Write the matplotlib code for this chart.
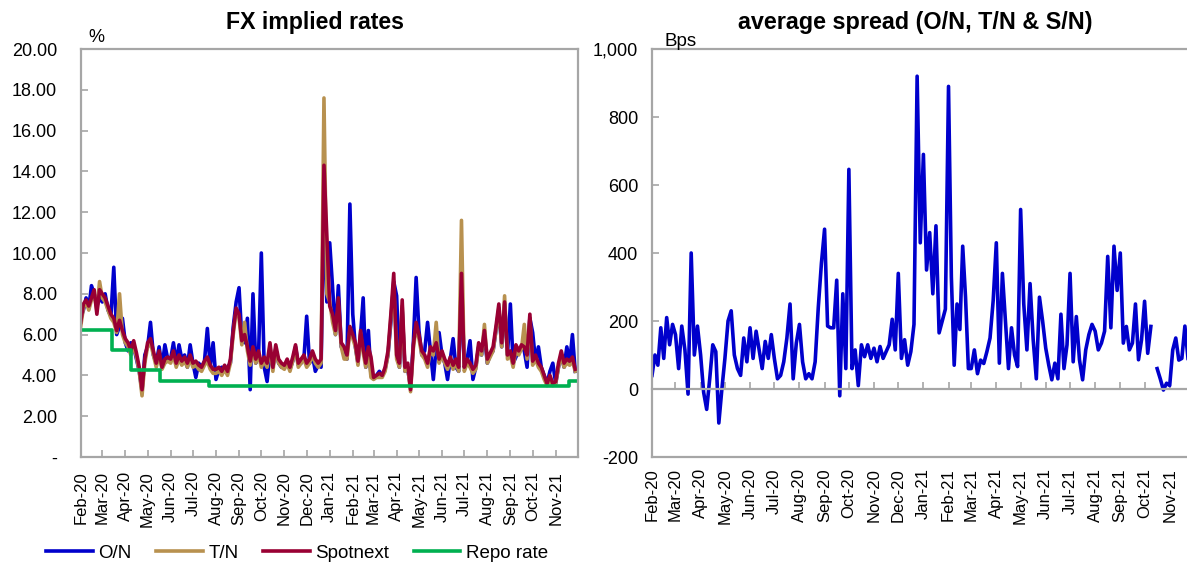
import matplotlib
matplotlib.use('Agg')
import matplotlib.pyplot as plt
import matplotlib.dates as mdates
import matplotlib.ticker as mticker
import numpy as np
import pandas as pd

plt.rcParams['font.family'] = ['Liberation Sans', 'DejaVu Sans']

# 8 readings per month, Feb-20 .. Nov-21
month_starts = pd.date_range('2020-02-01', '2021-12-01', freq='MS')
tick_months = month_starts[:-1]

# FX implied rates, % (one row = one month)
on_rate = [
    6.8, 7.2, 7.8, 7.3, 8.4, 8.0, 7.4, 7.8,     # Feb-20
    7.6, 8.0, 7.2, 6.9, 9.3, 6.0, 6.4, 6.8,     # Mar-20
    5.6, 5.2, 5.6, 5.4, 4.8, 4.2, 3.2, 5.0,     # Apr-20
    5.4, 6.6, 5.0, 4.6, 5.4, 4.4, 5.5, 4.8,     # May-20
    4.8, 5.6, 4.6, 5.5, 4.8, 5.0, 4.4, 5.5,     # Jun-20
    4.6, 3.9, 4.6, 4.4, 4.7, 6.3, 4.4, 5.6,     # Jul-20
    3.8, 4.3, 4.4, 4.2, 4.4, 4.6, 6.4, 7.6,     # Aug-20
    8.3, 5.8, 5.6, 6.8, 3.3, 8.0, 4.6, 5.0,     # Sep-20
    10.0, 4.4, 3.7, 5.2, 4.4, 5.3, 4.6, 4.4,    # Oct-20
    4.4, 4.6, 4.3, 4.7, 5.4, 4.5, 4.6, 4.8,     # Nov-20
    6.9, 4.6, 5.0, 4.2, 4.5, 4.4, 12.7, 7.6,    # Dec-20
    10.5, 8.3, 6.0, 8.4, 5.4, 5.2, 4.8, 12.4,   # Jan-21
    7.0, 5.4, 4.6, 6.0, 7.8, 4.4, 6.2, 4.0,     # Feb-21
    3.9, 4.0, 4.2, 4.0, 4.3, 5.0, 6.6, 8.6,     # Mar-21
    7.9, 4.4, 7.2, 4.2, 4.3, 3.4, 5.6, 8.8,     # Apr-21
    6.2, 5.0, 5.2, 6.6, 5.2, 3.8, 5.4, 6.1,     # May-21
    5.0, 4.6, 3.8, 4.8, 5.8, 4.4, 4.2, 8.6,     # Jun-21
    4.4, 4.8, 5.7, 3.8, 4.4, 5.4, 5.0, 6.0,     # Jul-21
    4.6, 5.0, 5.2, 6.2, 7.2, 5.4, 7.5, 5.0,     # Aug-21
    7.5, 4.6, 4.9, 5.2, 5.4, 5.2, 4.4, 6.8,     # Sep-21
    6.1, 4.7, 5.4, 4.4, 4.0, 3.6, 4.2, 4.6,     # Oct-21
    3.6, 4.4, 5.0, 4.4, 5.4, 4.6, 6.0, 4.2,     # Nov-21
]
tn_rate = [
    6.4, 7.3, 7.6, 7.2, 7.7, 8.0, 7.2, 8.6,
    7.8, 7.6, 7.2, 6.8, 6.6, 6.1, 8.0, 6.0,
    5.6, 5.4, 5.0, 5.5, 4.9, 4.2, 3.0, 4.6,
    5.4, 5.6, 5.0, 4.4, 5.0, 4.3, 4.6, 4.7,
    4.6, 5.0, 4.4, 4.8, 4.5, 4.7, 4.4, 4.8,
    4.4, 4.5, 4.3, 4.2, 4.5, 4.7, 4.3, 4.1,
    4.1, 4.2, 4.0, 4.3, 4.0, 4.6, 6.0, 7.2,
    6.8, 5.5, 6.6, 5.2, 4.5, 5.2, 4.6, 5.0,
    4.4, 4.7, 4.4, 5.4, 4.2, 5.3, 4.6, 4.4,
    4.3, 4.6, 4.2, 4.7, 5.3, 4.4, 4.6, 4.8,
    4.4, 4.6, 5.0, 4.6, 4.4, 4.6, 17.6, 8.0,
    7.6, 6.6, 6.0, 7.4, 5.4, 4.8, 4.8, 6.2,
    5.8, 5.4, 4.5, 6.0, 5.1, 4.4, 5.2, 3.9,
    3.8, 3.9, 3.9, 3.9, 4.2, 5.0, 6.8, 8.5,
    4.8, 4.4, 7.4, 4.2, 4.4, 3.2, 5.3, 6.4,
    5.8, 5.0, 4.8, 4.4, 5.2, 5.0, 6.6, 4.6,
    5.0, 4.6, 4.3, 4.7, 4.3, 4.6, 4.2, 11.6,
    4.2, 4.6, 4.4, 4.1, 4.3, 5.4, 5.0, 6.5,
    4.6, 4.9, 5.2, 6.2, 7.3, 5.4, 7.9, 4.8,
    5.0, 4.4, 5.3, 5.0, 5.3, 6.5, 4.8, 6.8,
    4.5, 4.8, 4.4, 4.2, 3.8, 3.5, 3.8, 3.5,
    3.6, 4.4, 5.0, 4.4, 4.6, 4.5, 4.7, 4.2,
]
sn_rate = [
    6.6, 7.5, 7.7, 7.4, 7.8, 8.2, 7.0, 8.2,
    8.0, 7.8, 7.4, 7.0, 6.8, 6.2, 6.7, 6.2,
    5.8, 5.6, 5.2, 5.7, 5.1, 4.4, 3.3, 4.8,
    5.6, 5.8, 5.2, 4.6, 5.2, 4.4, 4.8, 4.9,
    4.8, 5.2, 4.6, 5.0, 4.7, 4.9, 4.6, 5.0,
    4.6, 4.7, 4.5, 4.4, 4.7, 4.9, 4.5, 4.3,
    4.3, 4.4, 4.2, 4.5, 4.2, 4.8, 6.2, 7.3,
    7.0, 5.7, 6.0, 5.4, 4.7, 5.4, 4.8, 5.2,
    4.6, 4.9, 4.6, 5.6, 4.4, 5.5, 4.8, 4.6,
    4.5, 4.8, 4.4, 4.9, 5.5, 4.6, 4.8, 5.0,
    4.6, 4.8, 5.2, 4.8, 4.6, 4.8, 14.3, 10.8,
    7.4, 7.0, 6.2, 7.8, 5.6, 5.4, 5.0, 6.4,
    6.0, 5.6, 4.7, 6.2, 5.3, 4.6, 5.4, 4.9,
    3.9, 4.0, 4.1, 4.0, 4.4, 5.2, 7.0, 9.0,
    5.0, 4.6, 7.7, 4.4, 4.6, 3.3, 5.5, 6.6,
    6.0, 5.2, 5.0, 4.6, 5.4, 5.2, 5.6, 4.8,
    5.2, 4.8, 4.5, 4.9, 4.5, 4.8, 4.4, 9.0,
    4.4, 4.8, 4.6, 4.3, 4.5, 5.6, 5.2, 6.2,
    4.8, 5.1, 5.4, 6.4, 7.5, 5.6, 7.6, 5.0,
    5.2, 4.6, 5.5, 5.2, 5.5, 5.4, 5.0, 7.0,
    4.7, 5.0, 4.6, 4.4, 4.0, 3.6, 4.0, 3.6,
    3.7, 4.6, 5.2, 4.6, 4.8, 4.7, 4.9, 4.3,
]

# repo rate changes
repo_dates = ['2020-02-01', '2020-03-14', '2020-04-08', '2020-05-18',
              '2020-07-22', '2021-11-19', '2021-11-30']
repo_rate = [6.25, 5.25, 4.25, 3.75, 3.5, 3.75, 3.75]

# average spread, bps
spread = [
    40, 100, 70, 180, 90, 210, 130, 190,
    160, 60, 185, 115, -15, 400, 100, 185,
    100, -10, -60, 30, 130, 110, -100, 0,
    90, 200, 230, 100, 60, 40, 150, 80,
    180, 90, 170, 115, 60, 140, 90, 160,
    90, 30, 40, 80, 150, 250, 30, 135,
    190, 80, 30, 45, 30, 80, 240, 370,
    470, 185, 180, 180, 320, -20, 280, 60,
    646, 60, 115, 10, 130, 95, 130, 90,
    120, 80, 125, 90, 110, 130, 205, 115,
    340, 90, 145, 70, 110, 190, 920, 430,
    690, 350, 460, 280, 480, 165, 200, 235,
    890, 330, 70, 250, 175, 420, 270, 60,
    60, 115, 45, 85, 75, 110, 150, 260,
    430, 76, 340, 200, 60, 180, 100, 66,
    528, 250, 115, 310, 145, 30, 270, 200,
    120, 70, 27, 76, 30, 220, 60, 130,
    340, 80, 213, 86, 27, 115, 160, 190,
    170, 115, 135, 170, 390, 180, 420, 290,
    400, 135, 184, 115, 135, 250, 86, 145,
    258, 105, 184, np.nan, 60, 30, -3, 17,
    10, 115, 150, 85, 90, 185, 90, 90,
]

dates = []
for a, b in zip(month_starts[:-1], month_starts[1:]):
    step = (b - a) / 8
    dates.extend([a + step * k for k in range(8)])
dates = pd.DatetimeIndex(dates)

GREY = '#A6A6A6'
W, H = 1187, 567
fig = plt.figure(figsize=(W / 100, H / 100), dpi=100)

ax1 = fig.add_axes([80.7 / W, 1 - 457 / H, (578 - 80.7) / W, 408 / H])
ax2 = fig.add_axes([652 / W, 1 - 457 / H, (1194 - 652) / W, 408 / H])

lw = 2.6
l_on, = ax1.plot(dates, on_rate, color='#0000CC', lw=lw, label='O/N')
l_tn, = ax1.plot(dates, tn_rate, color='#B8914F', lw=lw, label='T/N')
l_sn, = ax1.plot(dates, sn_rate, color='#990033', lw=lw, label='Spotnext')
l_repo, = ax1.plot(pd.to_datetime(repo_dates), repo_rate, color='#00B050',
                   lw=lw, drawstyle='steps-post', label='Repo rate')

ax2.plot(dates, spread, color='#0000CC', lw=lw)
ax2.axhline(-200, color=GREY, lw=1.6, clip_on=False, zorder=5)

for ax in (ax1, ax2):
    ax.set_xlim(month_starts[0], month_starts[-1])
    ax.set_xticks(tick_months)
    ax.xaxis.set_major_formatter(mdates.DateFormatter('%b-%y'))
    for s in ax.spines.values():
        s.set_color(GREY)
        s.set_linewidth(1.6)
    ax.tick_params(direction='in', color=GREY, width=1.2, length=5,
                   labelcolor='black')
    ax.tick_params(axis='x', labelsize=12, labelrotation=90)
    ax.tick_params(axis='y', labelsize=13)

ax1.set_ylim(0, 20)
ax1.set_yticks(np.arange(0, 21, 2))
ax1.yaxis.set_major_formatter(
    mticker.FuncFormatter(lambda v, p: '-' if v == 0 else f'{v:.2f}'))
ax1.tick_params(axis='y', pad=17)
ax1.tick_params(axis='x', pad=10)

ax2.set_ylim(-200, 1000)
ax2.set_yticks(np.arange(-200, 1001, 200))
ax2.yaxis.set_major_formatter(mticker.FuncFormatter(lambda v, p: f'{v:,.0f}'))
ax2.spines['bottom'].set_position(('data', 0))
ax2.tick_params(axis='x', pad=57)
ax2.tick_params(axis='y', pad=10)

fig.text(315 / W, 1 - 22 / H, 'FX implied rates', ha='center', va='center',
         fontsize=16.7, fontweight='bold')
fig.text(915 / W, 1 - 22 / H, 'average spread (O/N, T/N & S/N)', ha='center',
         va='center', fontsize=16.8, fontweight='bold')
fig.text(88 / W, 1 - 37 / H, '%', ha='left', va='center', fontsize=13)
fig.text(665 / W, 1 - 42 / H, 'Bps', ha='left', va='center', fontsize=13.5)

fig.legend(handles=[l_on, l_tn, l_sn, l_repo], loc='center', ncol=4,
           bbox_to_anchor=(297 / W, 1 - 553 / H), frameon=False, fontsize=13.5,
           handlelength=2.5, handletextpad=0.3, columnspacing=1.3)

fig.savefig('out.png', dpi=100)
